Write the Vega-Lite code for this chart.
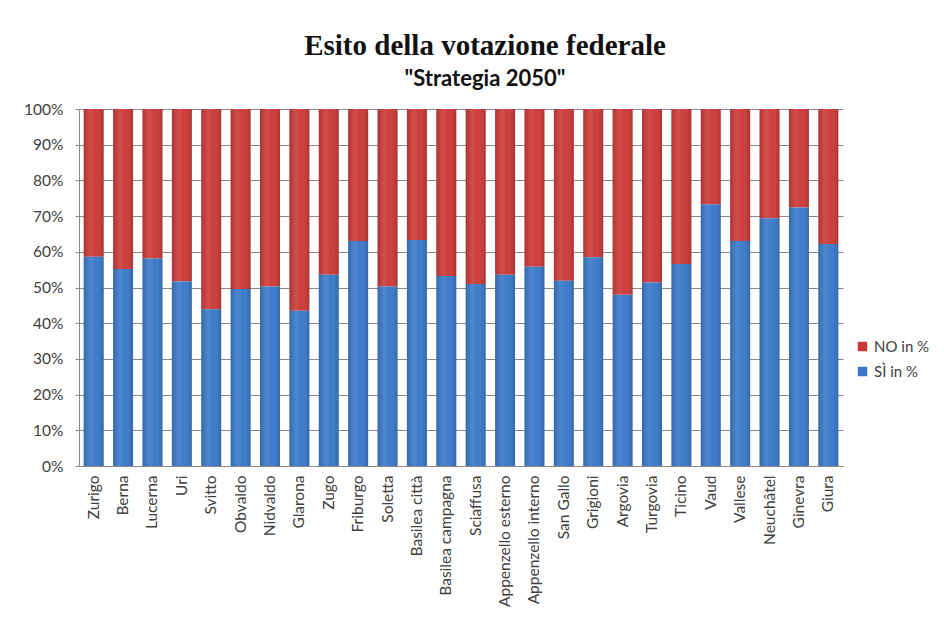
{
  "$schema": "https://vega.github.io/schema/vega-lite/v6.json",
  "autosize": "none",
  "width": 764,
  "height": 357,
  "padding": {"left": 79, "top": 109, "right": 101, "bottom": 159},
  "background": "white",
  "title": {
    "text": "Esito della votazione federale",
    "subtitle": "\"Strategia 2050\"",
    "anchor": "middle",
    "frame": "group",
    "dx": 24,
    "offset": 12,
    "font": "Liberation Serif",
    "fontSize": 29,
    "fontWeight": "bold",
    "color": "#111111",
    "subtitleFont": "Lato",
    "subtitleFontSize": 22,
    "subtitleFontWeight": "bold",
    "subtitleColor": "#111111",
    "subtitlePadding": 8
  },
  "data": {
    "values": [
      {"cantone": "Zurigo", "SÌ in %": 58.6, "NO in %": 41.4},
      {"cantone": "Berna", "SÌ in %": 55.2, "NO in %": 44.8},
      {"cantone": "Lucerna", "SÌ in %": 58.1, "NO in %": 41.9},
      {"cantone": "Uri", "SÌ in %": 51.7, "NO in %": 48.3},
      {"cantone": "Svitto", "SÌ in %": 43.9, "NO in %": 56.1},
      {"cantone": "Obvaldo", "SÌ in %": 49.6, "NO in %": 50.4},
      {"cantone": "Nidvaldo", "SÌ in %": 50.3, "NO in %": 49.7},
      {"cantone": "Glarona", "SÌ in %": 43.5, "NO in %": 56.5},
      {"cantone": "Zugo", "SÌ in %": 53.6, "NO in %": 46.4},
      {"cantone": "Friburgo", "SÌ in %": 63.0, "NO in %": 37.0},
      {"cantone": "Soletta", "SÌ in %": 50.3, "NO in %": 49.7},
      {"cantone": "Basilea città", "SÌ in %": 63.3, "NO in %": 36.7},
      {"cantone": "Basilea campagna", "SÌ in %": 53.2, "NO in %": 46.8},
      {"cantone": "Sciaffusa", "SÌ in %": 51.0, "NO in %": 49.0},
      {"cantone": "Appenzello esterno", "SÌ in %": 53.6, "NO in %": 46.4},
      {"cantone": "Appenzello interno", "SÌ in %": 55.8, "NO in %": 44.2},
      {"cantone": "San Gallo", "SÌ in %": 51.9, "NO in %": 48.1},
      {"cantone": "Grigioni", "SÌ in %": 58.5, "NO in %": 41.5},
      {"cantone": "Argovia", "SÌ in %": 48.0, "NO in %": 52.0},
      {"cantone": "Turgovia", "SÌ in %": 51.4, "NO in %": 48.6},
      {"cantone": "Ticino", "SÌ in %": 56.6, "NO in %": 43.4},
      {"cantone": "Vaud", "SÌ in %": 73.3, "NO in %": 26.7},
      {"cantone": "Vallese", "SÌ in %": 63.0, "NO in %": 37.0},
      {"cantone": "Neuchâtel", "SÌ in %": 69.4, "NO in %": 30.6},
      {"cantone": "Ginevra", "SÌ in %": 72.4, "NO in %": 27.6},
      {"cantone": "Giura", "SÌ in %": 62.2, "NO in %": 37.8}
    ]
  },
  "encoding": {
    "x": {
      "field": "cantone",
      "type": "nominal",
      "sort": null,
      "title": null,
      "scale": {"paddingInner": 0.32, "paddingOuter": 0.16},
      "axis": {
        "labelAngle": 270,
        "labelAlign": "right",
        "labelBaseline": "middle",
        "labelFont": "Lato",
        "labelFontSize": 15.5,
        "labelColor": "#404040",
        "labelPadding": 9,
        "labelOverlap": false,
        "ticks": false,
        "domainColor": "#888888",
        "labelLimit": 200
      }
    }
  },
  "layer": [
    {
      "transform": [
        {"fold": ["NO in %", "SÌ in %"], "as": ["esito", "valore"]}
      ],
      "mark": {"type": "bar"},
      "encoding": {
        "y": {
          "field": "valore",
          "type": "quantitative",
          "stack": "normalize",
          "title": null,
          "scale": {"domain": [0, 1]},
          "axis": {
            "format": ".0%",
            "values": [0, 0.1, 0.2, 0.3, 0.4, 0.5, 0.6, 0.7, 0.8, 0.9, 1],
            "labelFont": "Lato",
            "labelFontSize": 15.5,
            "labelColor": "#404040",
            "labelPadding": 12,
            "labelOverlap": false,
            "ticks": true,
            "tickSize": 4,
            "tickColor": "#888888",
            "domainColor": "#888888",
            "gridColor": "#8a8a8a",
            "gridWidth": 1
          }
        },
        "color": {
          "field": "esito",
          "type": "nominal",
          "scale": {"domain": ["NO in %", "SÌ in %"], "range": ["#cc3a38", "#3a79c9"]},
          "legend": {
            "title": null,
            "orient": "none",
            "legendX": 776,
            "legendY": 230,
            "symbolType": "square",
            "symbolSize": 90,
            "symbolStrokeWidth": 0,
            "labelFont": "Lato",
            "labelFontSize": 15,
            "labelColor": "#404040",
            "rowPadding": 9
          }
        },
        "order": {"field": "esito", "sort": "descending"}
      }
    },
    {
      "mark": {
        "type": "bar",
        "fill": {
          "gradient": "linear",
          "x1": 0, "x2": 1, "y1": 0, "y2": 0,
          "stops": [
            {"offset": 0, "color": "rgba(0,0,0,0.14)"},
            {"offset": 0.35, "color": "rgba(255,255,255,0.10)"},
            {"offset": 0.6, "color": "rgba(255,255,255,0.02)"},
            {"offset": 1, "color": "rgba(0,0,0,0.16)"}
          ]
        }
      },
      "encoding": {
        "y": {
          "datum": 1,
          "type": "quantitative",
          "title": null,
          "scale": {"domain": [0, 1]},
          "axis": {
            "format": ".0%",
            "values": [0, 0.1, 0.2, 0.3, 0.4, 0.5, 0.6, 0.7, 0.8, 0.9, 1],
            "labelFont": "Lato",
            "labelFontSize": 15.5,
            "labelColor": "#404040",
            "labelPadding": 12,
            "labelOverlap": false,
            "ticks": true,
            "tickSize": 4,
            "tickColor": "#888888",
            "domainColor": "#888888",
            "gridColor": "#8a8a8a",
            "gridWidth": 1
          }
        }
      }
    }
  ],
  "config": {
    "view": {"stroke": null}
  }
}
